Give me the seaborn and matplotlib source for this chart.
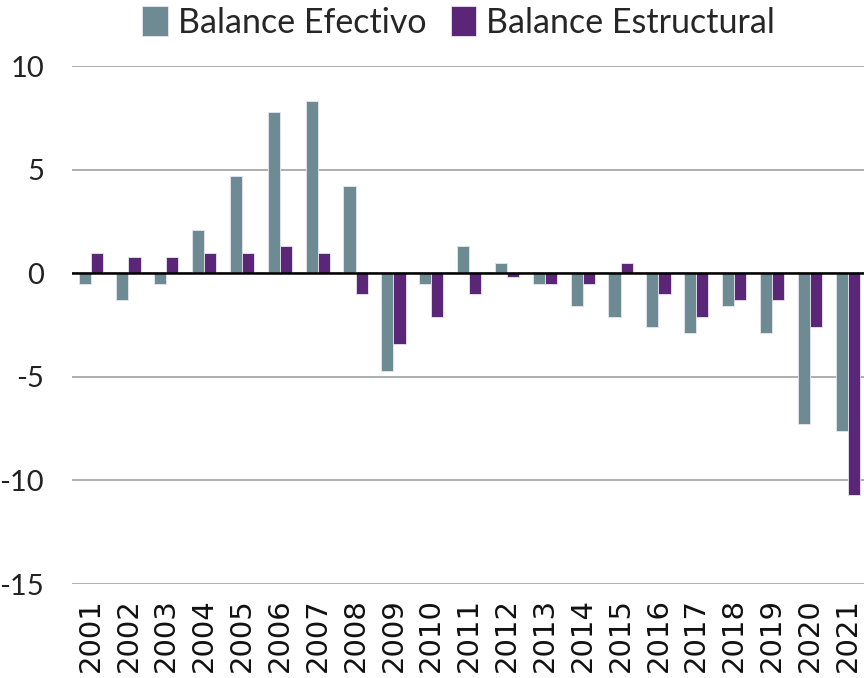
import matplotlib
matplotlib.use("Agg")
import matplotlib.pyplot as plt
import seaborn as sns
import pandas as pd

years = [str(y) for y in range(2001, 2022)]
efectivo = [-0.5, -1.3, -0.5, 2.1, 4.7, 7.8, 8.3, 4.2, -4.7, -0.5, 1.3, 0.5, -0.5, -1.6, -2.1, -2.6, -2.9, -1.6, -2.9, -7.3, -7.6]
estructural = [1.0, 0.8, 0.8, 1.0, 1.0, 1.3, 1.0, -1.0, -3.4, -2.1, -1.0, -0.2, -0.5, -0.5, 0.5, -1.0, -2.1, -1.3, -1.3, -2.6, -10.7]
series_names = ["Balance Efectivo", "Balance Estructural"]
colors = ["#6E8B94", "#5B2677"]
yticks = [10, 5, 0, -5, -10, -15]

df = pd.DataFrame({
    "year": years * 2,
    "value": efectivo + estructural,
    "serie": [series_names[0]] * len(years) + [series_names[1]] * len(years),
})

sns.set_theme(style="white")
plt.rcParams["font.family"] = ["Lato", "DejaVu Sans"]

fig = plt.figure(figsize=(8.64, 6.78), dpi=100)
ax = fig.add_axes([0.083, 0.1386, 0.92, 0.764])

sns.barplot(data=df, x="year", y="value", hue="serie", palette=colors,
            width=0.64, ax=ax, edgecolor="#E6E6EE", linewidth=0.6, saturation=1)

ax.set_ylim(-15, 10)
ax.set_yticks(yticks)
ax.set_yticklabels([str(t) for t in yticks], fontsize=21, color="#222222")
ax.yaxis.grid(True, color="#A8A8A8", linewidth=1.3)
ax.set_axisbelow(True)
ax.axhline(0, color="black", linewidth=1.8, zorder=3)
for s in ax.spines.values():
    s.set_visible(False)
ax.tick_params(axis="both", length=0)
ax.tick_params(axis="y", pad=20)
ax.tick_params(axis="x", pad=10)
ax.set_xlim(-0.5, len(years) - 0.5)
for lab in ax.get_xticklabels():
    lab.set_rotation(90)
    lab.set_fontsize(21)
    lab.set_fontfamily("DejaVu Sans")
    lab.set_color("#111111")
ax.set_xlabel("")
ax.set_ylabel("")

ax.legend(loc="upper center", bbox_to_anchor=(0.487, 1.155), ncol=2, frameon=False,
          fontsize=24.5, handlelength=0.75, handleheight=0.95, handletextpad=0.3,
          columnspacing=0.7, borderpad=0.1)

fig.savefig("out.png", dpi=100)
